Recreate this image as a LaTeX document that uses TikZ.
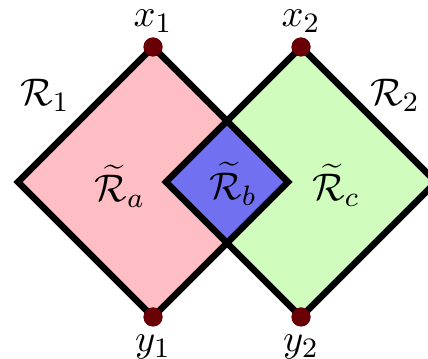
\documentclass[tikz,border=0pt]{standalone}
\usetikzlibrary{positioning}
\definecolor{regpink}{RGB}{255,190,195}
\definecolor{reggreen}{RGB}{208,252,190}
\definecolor{regblue}{RGB}{112,112,240}
\definecolor{dotred}{RGB}{105,0,5}
\tikzset{
  dot/.style={circle,fill=dotred,inner sep=0pt,minimum size=0.19cm},
  edge/.style={line width=1.9pt},
  lbl/.style={inner sep=1pt,font=\fontsize{11}{13}\selectfont}
}
\begin{document}
\begin{tikzpicture}
\useasboundingbox (0,0) rectangle (4.28,3.59);

\coordinate (l1) at (0.18,1.77);
\coordinate (r1) at (2.88,1.77);
\coordinate (l2) at (1.66,1.77);
\coordinate (r2) at (4.36,1.77);
\coordinate (mtop) at (2.27,2.38);
\coordinate (mbot) at (2.27,1.16);

\fill[regpink] (1.53,3.12) -- (r1) -- (1.53,0.42) -- (l1) -- cycle;
\fill[reggreen] (3.01,3.12) -- (r2) -- (3.01,0.42) -- (l2) -- cycle;
\fill[regblue] (mtop) -- (r1) -- (mbot) -- (l2) -- cycle;

\node[dot] (x1) at (1.53,3.12) {};
\node[dot] (y1) at (1.53,0.42) {};
\node[dot] (x2) at (3.01,3.12) {};
\node[dot] (y2) at (3.01,0.42) {};

\draw[edge] (x1.center) -- (r1) -- (y1.center) -- (l1) -- cycle;
\draw[edge] (x2.center) -- (r2) -- (y2.center) -- (l2) -- cycle;

\node[dot] at (x1) {};
\node[dot] at (y1) {};
\node[dot] at (x2) {};
\node[dot] at (y2) {};

\node[lbl,above=0pt of x1] (lx1) {$x_1$};
\node[lbl,above=0pt of x2] (lx2) {$x_2$};
\node[lbl,below=1pt of y1] (ly1) {$y_1$};
\node[lbl,below=1pt of y2] (ly2) {$y_2$};

\node[lbl] (R1) at (0.45,2.64) {$\mathcal{R}_1$};
\node[lbl] (R2) at (3.95,2.64) {$\mathcal{R}_2$};
\node[lbl] (Ra) at (1.20,1.73) {$\widetilde{\mathcal{R}}_a$};
\node[lbl] (Rb) at (2.33,1.75) {$\widetilde{\mathcal{R}}_b$};
\node[lbl] (Rc) at (3.36,1.74) {$\widetilde{\mathcal{R}}_c$};
\end{tikzpicture}
\end{document}
